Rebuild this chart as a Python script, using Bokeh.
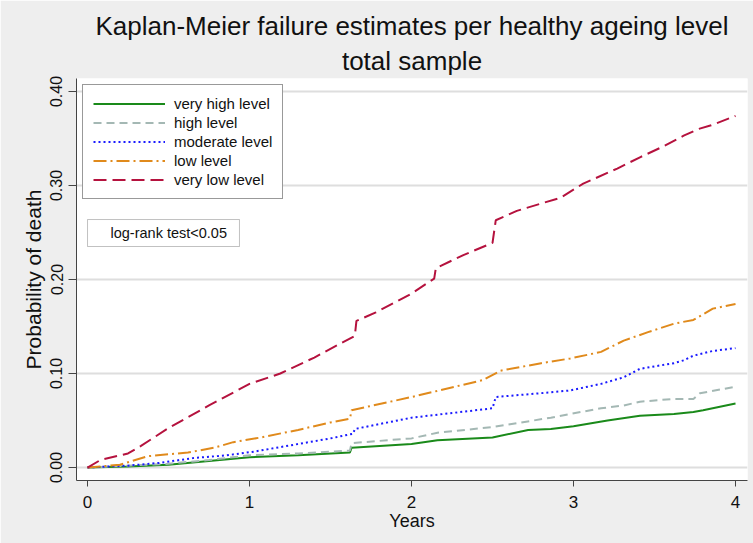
from bokeh.plotting import figure
from bokeh.models import Legend, LegendItem, Title, BoxAnnotation, Label, FixedTicker
from bokeh.embed import file_html
from bokeh.resources import INLINE

# ---- data ----
very_high_t = [0, 0.25, 0.5, 0.75, 1.0, 1.3, 1.62, 1.63, 2.0, 2.16, 2.5, 2.72, 2.86, 3.0, 3.21, 3.41, 3.62, 3.74, 3.8, 4.0]
very_high_v = [0, 0.001, 0.003, 0.007, 0.011, 0.013, 0.016, 0.021, 0.025, 0.029, 0.032, 0.040, 0.041, 0.044, 0.050, 0.055, 0.057, 0.059, 0.061, 0.068]

high_t = [0, 0.25, 0.5, 0.75, 1.0, 1.3, 1.62, 1.63, 2.0, 2.16, 2.5, 2.86, 2.98, 3.17, 3.31, 3.41, 3.62, 3.74, 3.78, 4.0]
high_v = [0, 0.002, 0.004, 0.008, 0.013, 0.015, 0.018, 0.026, 0.031, 0.037, 0.043, 0.053, 0.057, 0.063, 0.066, 0.070, 0.073, 0.073, 0.079, 0.086]

moderate_t = [0, 0.25, 0.45, 0.65, 0.86, 1.03, 1.3, 1.5, 1.64, 1.65, 2.0, 2.5, 2.52, 2.86, 2.98, 3.17, 3.31, 3.41, 3.62, 3.68, 3.74, 3.86, 4.0]
moderate_v = [0, 0.002, 0.005, 0.010, 0.013, 0.017, 0.025, 0.031, 0.036, 0.041, 0.053, 0.063, 0.075, 0.080, 0.082, 0.089, 0.096, 0.105, 0.111, 0.114, 0.119, 0.124, 0.127]

low_t = [0, 0.2, 0.37, 0.62, 0.78, 0.9, 1.07, 1.3, 1.5, 1.62, 1.63, 2.0, 2.44, 2.55, 2.8, 2.98, 3.17, 3.31, 3.46, 3.62, 3.74, 3.86, 4.0]
low_v = [0, 0.003, 0.012, 0.016, 0.021, 0.027, 0.032, 0.040, 0.048, 0.052, 0.061, 0.075, 0.093, 0.103, 0.111, 0.116, 0.123, 0.135, 0.144, 0.153, 0.157, 0.169, 0.174]

very_low_t = [0, 0.08, 0.25, 0.33, 0.5, 0.75, 1.0, 1.19, 1.4, 1.65, 1.66, 1.78, 2.0, 2.14, 2.15, 2.32, 2.5, 2.52, 2.65, 2.92, 3.06, 3.27, 3.41, 3.56, 3.68, 3.77, 3.85, 4.0]
very_low_v = [0, 0.008, 0.015, 0.023, 0.042, 0.066, 0.089, 0.100, 0.117, 0.140, 0.156, 0.165, 0.185, 0.201, 0.212, 0.226, 0.239, 0.263, 0.273, 0.287, 0.302, 0.318, 0.330, 0.342, 0.353, 0.360, 0.364, 0.374]

series_labels = ["very high level", "high level", "moderate level", "low level", "very low level"]
title_lines = ["Kaplan-Meier failure estimates per healthy ageing level", "total sample"]
x_ticks = [0, 1, 2, 3, 4]
y_ticks = [0.0, 0.1, 0.2, 0.3, 0.4]
y_tick_labels = ["0.00", "0.10", "0.20", "0.30", "0.40"]

FONT = "Liberation Sans"
BG = "#eeeeee"

p = figure(width=753, height=543, output_backend="svg", toolbar_location=None,
           x_range=(-0.068, 4.074), y_range=(-0.0138, 0.4138),
           min_border_left=76, min_border_right=6, min_border_top=78, min_border_bottom=63,
           background_fill_color="white", border_fill_color=BG,
           title=title_lines[0])
p.outline_line_color = None

p.title.text_font = FONT
p.title.text_font_size = "26px"
p.title.text_font_style = "normal"
p.title.align = "center"
p.title.text_color = "#111111"
p.title.text_line_height = 0.85
p.title.standoff = 0
p.add_layout(Title(text=title_lines[1],
                   text_font=FONT, text_font_size="26px", text_font_style="normal",
                   align="center", text_color="#111111", text_line_height=0.85,
                   standoff=6), "above")

# axes
for ax in (p.xaxis[0], p.yaxis[0]):
    ax.axis_line_color = "#444444"
    ax.major_tick_line_color = "#444444"
    ax.minor_tick_line_color = None
    ax.major_tick_in = 0
    ax.major_label_text_font = FONT
    ax.major_label_text_color = "#111111"
    ax.axis_label_text_font = FONT
    ax.axis_label_text_font_style = "normal"
    ax.axis_label_text_color = "#111111"

p.xaxis.ticker = FixedTicker(ticks=x_ticks)
p.xaxis.major_tick_out = 6
p.xaxis.major_label_text_font_size = "17px"
p.xaxis.major_label_standoff = 9
p.xaxis.axis_label = "Years"
p.xaxis.axis_label_text_font_size = "18px"
p.xaxis.axis_label_standoff = 0

p.yaxis.ticker = FixedTicker(ticks=y_ticks)
p.yaxis.major_label_overrides = {t: l for t, l in zip(y_ticks, y_tick_labels)}
p.yaxis.major_label_orientation = "vertical"
p.yaxis.major_tick_out = 8
p.yaxis.major_label_text_font_size = "16px"
p.yaxis.major_label_standoff = 6
p.yaxis.axis_label = "Probability of death"
p.yaxis.axis_label_text_font_size = "21px"
p.yaxis.axis_label_standoff = 3

p.xgrid.grid_line_color = None
p.ygrid.grid_line_color = "#dedede"
p.ygrid.grid_line_width = 2

styles = [
    dict(color="#1a8a1a", dash="solid"),
    dict(color="#a4b8b4", dash="8 5"),
    dict(color="#1a1aff", dash="2 3"),
    dict(color="#e08a1c", dash="13 4 2 4"),
    dict(color="#b5123e", dash="13 6"),
]
data = [(very_high_t, very_high_v), (high_t, high_v), (moderate_t, moderate_v),
        (low_t, low_v), (very_low_t, very_low_v)]

items = []
for (t, v), st, lab in zip(data, styles, series_labels):
    r = p.line(t, v, line_color=st["color"], line_width=2, line_dash=st["dash"])
    items.append(LegendItem(label=lab, renderers=[r]))

legend = Legend(items=items, location="top_left",
                label_text_font=FONT, label_text_font_size="15px", label_text_color="#111111",
                glyph_width=72, glyph_height=17, label_height=17, spacing=2,
                label_standoff=9, padding=10, margin=6,
                border_line_color="#333333", border_line_width=1,
                background_fill_color="white", background_fill_alpha=1)
p.add_layout(legend, "center")

# log-rank annotation box
p.add_layout(BoxAnnotation(left=0.0, right=0.938, bottom=0.2351, top=0.2638,
                           fill_color="white", fill_alpha=1,
                           line_color="#333333", line_width=1))
p.add_layout(Label(x=0.142, y=0.2495, text="log-rank test<0.05",
                   text_font=FONT, text_font_size="14.5px", text_color="#111111",
                   text_baseline="middle", text_align="left"))

html = file_html(p, INLINE)
html = html.replace("<body>", '<body style="background:%s">' % BG, 1)
open("out.html", "w").write(html)
